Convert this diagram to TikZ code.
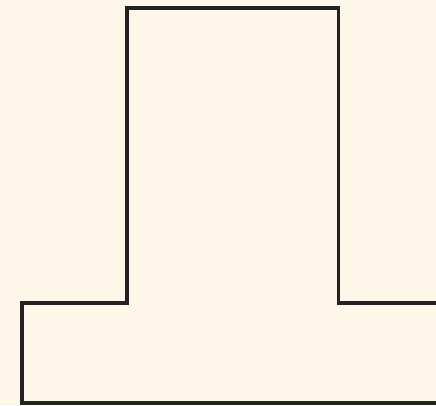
\documentclass[tikz,border=0pt]{standalone}
\definecolor{bgcream}{HTML}{FDF6E9}
\definecolor{edgedark}{HTML}{222222}
\tikzset{outline/.style={draw=edgedark,line width=3.2pt,line join=miter}}
\begin{document}
\begin{tikzpicture}[x=1pt,y=1pt]
\fill[bgcream] (0,0) rectangle (436,405);
\useasboundingbox (0,0) rectangle (436,405);
\clip (0,0) rectangle (436,405);
\draw[outline] (22,2) -- (22,102) -- (127,102) -- (127,397) -- (338.5,397) -- (338.5,102) -- (450,102) -- (450,2) -- cycle;
\end{tikzpicture}
\end{document}
